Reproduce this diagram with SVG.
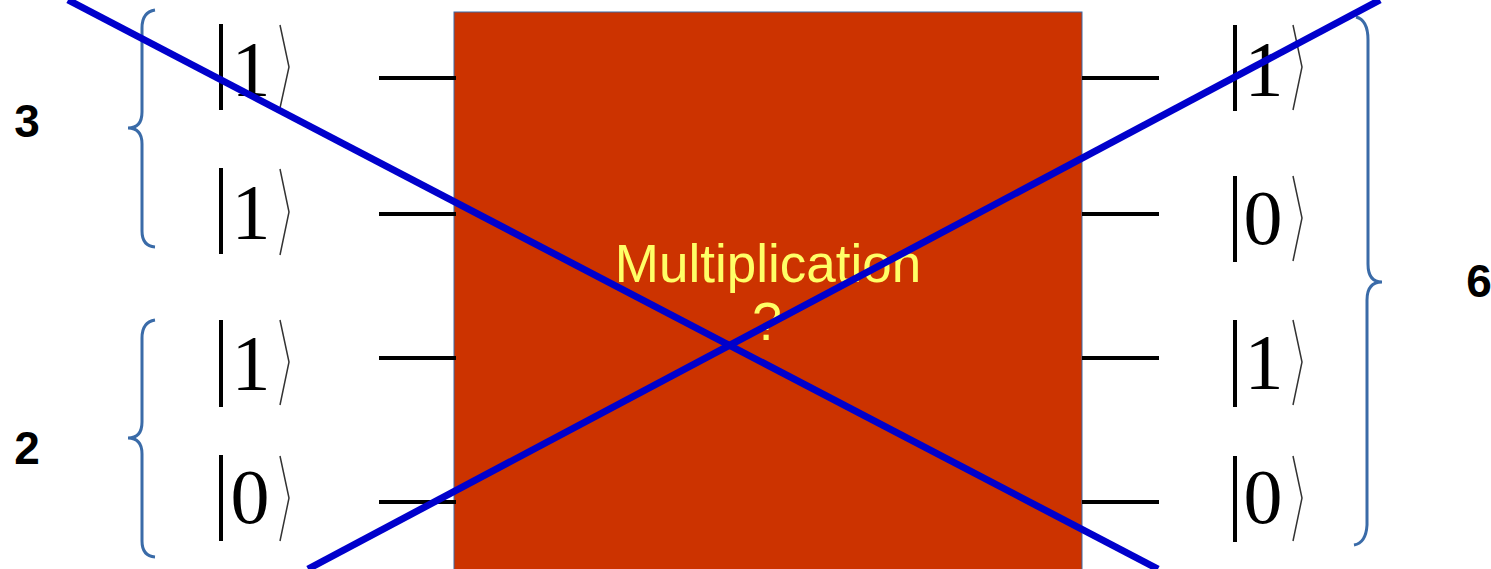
<svg xmlns="http://www.w3.org/2000/svg" width="1491" height="569" viewBox="0 0 1491 569">
<style>
.wire{stroke:#000;stroke-width:4;fill:none}
.bar{stroke:#000;stroke-width:4}
.ang{stroke:#333;stroke-width:1.5;fill:none}
.dig{font-family:"Liberation Serif",serif;font-size:78px;fill:#000;text-anchor:middle}
.brace{stroke:#3A6BA8;stroke-width:3;fill:none}
.num{font-family:"Liberation Sans",Arial,sans-serif;font-weight:bold;font-size:46px;fill:#000;text-anchor:middle}
.lbl{font-family:"Liberation Sans",Arial,sans-serif;font-size:53px;fill:#FFFF66;text-anchor:middle}
.cross{stroke:#0000CC;stroke-width:7}
</style>
<rect width="1491" height="569" fill="#fff"/>
<g id="box">
<rect x="454" y="12" width="628" height="570" fill="#CC3300" stroke="#3A6BA8" stroke-width="1"/>
<text class="lbl" x="768" y="282">Multiplication</text>
<text class="lbl" x="767" y="340">?</text>
</g>
<g id="wires">
<line class="wire" x1="379" y1="78" x2="456" y2="78"/>
<line class="wire" x1="379" y1="214" x2="456" y2="214"/>
<line class="wire" x1="379" y1="358" x2="456" y2="358"/>
<line class="wire" x1="379" y1="502" x2="456" y2="502"/>
<line class="wire" x1="1082" y1="78" x2="1159" y2="78"/>
<line class="wire" x1="1082" y1="214" x2="1159" y2="214"/>
<line class="wire" x1="1082" y1="358" x2="1159" y2="358"/>
<line class="wire" x1="1082" y1="502" x2="1159" y2="502"/>
</g>
<g id="kets-left">
<line class="bar" x1="221" y1="24" x2="221" y2="110"/>
<text class="dig" x="251" y="95">1</text>
<polyline class="ang" points="280,25 289,67 280,108"/>
<line class="bar" x1="221" y1="168" x2="221" y2="254"/>
<text class="dig" x="251" y="238">1</text>
<polyline class="ang" points="280,169 289,212 280,255"/>
<line class="bar" x1="221" y1="320" x2="221" y2="407"/>
<text class="dig" x="251" y="389">1</text>
<polyline class="ang" points="280,320 289,362 280,405"/>
<line class="bar" x1="221" y1="455" x2="221" y2="541"/>
<text class="dig" x="250" y="523">0</text>
<polyline class="ang" points="280,456 289,498 280,541"/>
</g>
<g id="kets-right">
<line class="bar" x1="1235" y1="25" x2="1235" y2="111"/>
<text class="dig" x="1264" y="95">1</text>
<polyline class="ang" points="1293,25 1302,67 1293,110"/>
<line class="bar" x1="1235" y1="176" x2="1235" y2="262"/>
<text class="dig" x="1263" y="244">0</text>
<polyline class="ang" points="1293,176 1302,218 1293,261"/>
<line class="bar" x1="1235" y1="320" x2="1235" y2="407"/>
<text class="dig" x="1264" y="388">1</text>
<polyline class="ang" points="1293,320 1302,362 1293,405"/>
<line class="bar" x1="1235" y1="456" x2="1235" y2="542"/>
<text class="dig" x="1263" y="523">0</text>
<polyline class="ang" points="1293,456 1302,498 1293,541"/>
</g>
<g id="brace-3">
<path class="brace" d="M155,10 Q142,12 142,28 L142,112 Q142,128 128,128 Q142,128 142,144 L142,231 Q142,246 155,247"/>
<text class="num" x="27" y="137">3</text>
</g>
<g id="brace-2">
<path class="brace" d="M155,320 Q142,322 142,338 L142,422 Q142,438 128,438 Q142,438 142,454 L142,541 Q142,556 155,557"/>
<text class="num" x="27" y="464">2</text>
</g>
<g id="brace-6">
<path class="brace" d="M1356,17 Q1368,20 1368,40 L1368,264 Q1368,282 1382,282 Q1367,282 1367,300 L1367,525 Q1366,543 1354,545"/>
<text class="num" x="1479" y="297">6</text>
</g>
<g id="connectors">
<line class="cross" x1="68" y1="0" x2="1158" y2="569"/>
<line class="cross" x1="308" y1="569" x2="1380" y2="0"/>
</g>
</svg>
